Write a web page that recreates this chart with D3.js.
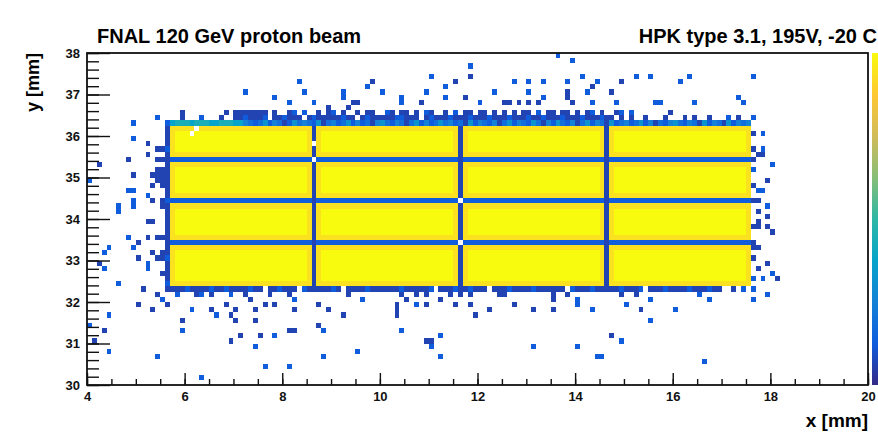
<!DOCTYPE html>
<html>
<head>
<meta charset="utf-8">
<script src="https://cdn.jsdelivr.net/npm/d3@7"></script>
<style>
  body { margin: 0; background: #fff; }
  svg { display: block; font-family: "Liberation Sans", Arial, sans-serif; }
</style>
</head>
<body>
<div class="chart"></div>
<script>
//** binning of the hit map (mm) */
const xRange = [4, 20];
const yRange = [30, 38];
const binX = 0.1;
const binY = 0.125;
const zMax = 16;

const xTicks = [4, 6, 8, 10, 12, 14, 16, 18, 20];
const yTicks = [30, 31, 32, 33, 34, 35, 36, 37, 38];

//** ROOT kBird palette */
const palStops = [0, 0.125, 0.25, 0.375, 0.5, 0.625, 0.75, 0.875, 1];
const palRed   = [0.2082, 0.0592, 0.0780, 0.0232, 0.1802, 0.5301, 0.8186, 0.9956, 0.9764];
const palGreen = [0.1664, 0.3599, 0.5041, 0.6419, 0.7178, 0.7492, 0.7328, 0.7862, 0.9832];
const palBlue  = [0.5293, 0.8684, 0.8385, 0.7914, 0.6425, 0.4662, 0.3499, 0.1968, 0.0539];

//** sensor: 4x4 pads, gaps between them */
const sensorX = [5.7, 17.6];
const sensorY = [32.375, 36.25];
const gapX = [8.65, 11.65, 14.65];
const gapY = [33.44, 34.44, 35.44];
const padCount = 16;
const nearGapCount = 15;
const sensorEdgeCount = 15;
const gapXCount = 1;
const gapYCount = 2;

// rows of hits along the sensor border, one digit per 0.1 mm bin
const topEdgeRow = { y: 36.31, x0: 5.7, counts:
  "677767776677766" + "4323524312" + "5343251342" + "3524231453" + "2431352423" + "5342315243" +
  "2413524325" + "3142532413" + "5243152342" + "3524132453" + "2431524315" + "2434" };
const aboveRow1 = { y: 36.44, x0: 5.0, counts:
  "0000200001" + "0002000100" + "1121112011" + "2111012111" + "1121101211" + "1112211101" +
  "2111211121" + "1121112111" + "2112111211" + "1211121101" + "0100100010" + "0010100100" + "02010020" };
const aboveRow2 = { y: 36.56, x0: 6.8, counts:
  "1010110010" + "1001201001" + "0120100101" + "1002101101" + "0210010201" + "1011010101" +
  "0110201101" + "1010120100" + "12" };
const belowRow = { y: 32.31, x0: 5.6, counts:
  "1111211112" + "1121111211" + "0112111021" + "1111210111" + "1211111121" + "1111201112" +
  "1121110111" + "2111121111" + "1102111211" + "1112111201" + "1121111211" + "12110010201" };
// columns left of the sensor, one digit per 0.125 mm bin from the bottom
const leftCol1 = { x: 5.65, y0: 32.375, counts: "21111211111111112111111111211112" };
const leftCol2 = { x: 5.55, y0: 32.375, counts: "00100110010000011001111010100000" };

// scattered hits [x, y, count]
const strayHits = [
  [4.92,36.36,1],[5.43,36.48,2],[5.64,36.34,1],[5.93,36.55,1],[6.34,36.46,2],
  [7.24,37.06,2],[7.14,36.58,1],[7.40,36.58,1],[7.50,36.55,1],[7.69,36.58,1],[7.83,36.99,2],
  [8.34,37.25,2],[8.43,37.06,2],[8.12,36.75,2],[8.43,36.58,2],[8.63,36.75,2],[8.71,36.51,1],
  [8.98,36.65,1],[9.23,37.06,2],[9.23,36.94,2],[9.35,36.63,1],[9.49,36.77,1],[9.59,36.87,1],
  [9.74,37.18,2],[9.84,37.25,1],[10.05,37.06,2],[10.41,36.99,2],[10.45,36.82,2],[10.82,36.87,1],
  [10.93,37.06,2],[11.05,37.47,2],[11.34,37.13,2],[11.34,36.99,2],
  [13.63,37.88,2],[13.94,37.76,2],[11.85,37.66,2],[11.85,37.42,1],[11.54,37.25,1],[11.70,36.99,1],
  [11.34,36.89,2],[12.73,37.37,2],[13.04,37.25,2],[13.32,37.25,2],[13.84,37.37,2],[14.14,37.47,2],
  [14.43,37.37,2],[14.94,37.25,1],[15.23,37.47,2],[15.52,37.47,2],[16.15,37.37,2],[16.32,37.47,2],
  [17.63,37.47,2],[12.36,37.08,2],[13.04,37.06,2],[13.39,36.99,2],[13.22,36.82,1],[13.08,36.75,1],
  [13.84,37.06,1],[13.80,36.94,1],[14.25,37.06,2],[14.35,37.18,1],[14.74,37.06,1],[15.60,36.87,2],
  [15.74,36.75,2],[16.44,36.75,2],[17.34,36.99,2],[17.44,36.87,2],[12.03,36.75,2],[12.52,36.87,1],
  [12.67,36.75,1],[12.87,36.75,1],[13.90,36.75,1],[14.35,36.75,2],[14.82,36.75,2],[15.13,36.58,2],
  [15.95,36.58,1],
  [4.94,35.94,2],[5.24,35.76,1],[5.43,35.66,1],[5.24,35.57,1],[5.43,35.46,1],[4.83,35.42,1],
  [4.23,35.36,1],[4.06,34.96,2],[5.45,35.15,1],[5.45,35.05,1],[5.35,35.05,1],[5.45,34.90,1],
  [5.35,34.85,1],[4.94,35.06,1],[4.85,34.66,2],[4.95,34.66,2],[4.94,34.46,2],[4.94,34.26,2],
  [4.64,34.26,2],[4.64,34.14,2],[5.26,34.54,2],[5.33,34.46,1],[5.26,33.98,1],[5.33,33.98,1],
  [5.43,33.57,1],[5.24,33.57,1],[4.83,33.57,2],[5.05,33.45,1],[4.44,33.35,2],[4.94,33.25,2],
  [5.05,33.09,1],[5.39,33.17,1],[5.45,33.09,1],[4.33,33.16,2],[4.23,32.93,1],[4.33,32.75,2],
  [5.24,32.93,2],[5.24,32.77,2],[4.64,32.45,2],[5.15,32.33,1],[4.94,36.35,2],
  [17.11,36.48,2],[17.62,36.48,1],[17.62,36.07,1],[17.82,36.07,2],[17.62,35.74,1],[17.82,35.74,2],
  [17.72,35.58,1],[17.82,35.58,1],[17.62,35.44,1],[18.03,35.26,2],[17.62,35.16,2],[17.93,34.96,1],
  [17.62,34.82,1],[17.66,34.76,1],[17.79,34.66,2],[17.82,34.70,2],[17.62,34.42,1],[17.72,34.42,1],
  [17.93,34.35,2],[17.72,34.14,1],[17.93,34.06,1],[17.72,33.96,1],[17.62,33.86,1],[17.79,33.78,1],
  [17.93,33.86,1],[18.03,33.66,1],[17.62,33.45,1],[17.66,33.33,1],[17.79,33.33,1],[17.62,33.00,1],
  [17.72,32.87,1],[17.72,32.75,1],[17.93,32.96,1],[18.03,32.67,2],[18.13,32.55,1],[17.82,32.55,2],
  [17.62,32.55,2],[17.62,32.25,2],[17.41,32.25,1],[17.93,32.17,2],
  [5.43,32.14,1],[5.53,32.05,2],[5.80,32.14,2],[6.21,32.14,1],[6.32,32.14,2],[6.55,32.14,1],
  [6.93,32.14,2],[7.20,32.14,1],[7.31,32.05,1],[7.72,32.14,1],[8.13,32.14,1],[8.26,32.05,2],
  [9.35,32.14,1],[9.63,32.05,2],[10.41,32.14,1],[10.52,32.05,1],[10.79,32.14,1],[10.93,32.14,1],
  [5.02,31.94,1],[5.33,31.84,1],[5.60,31.94,1],[6.52,31.84,1],[6.83,31.94,1],[7.03,31.84,1],
  [7.44,31.84,1],[7.63,31.94,1],[7.83,31.94,1],[8.24,31.84,1],[8.74,31.94,1],[8.94,31.84,1],
  [10.35,31.94,1],[10.72,31.94,2],[10.93,31.94,1],[6.13,31.75,2],[4.44,31.65,2],[6.62,31.65,2],
  [6.92,31.65,1],[9.22,31.65,1],[10.35,31.75,1],[10.35,31.65,1],[5.94,31.53,1],[7.03,31.53,1],
  [7.44,31.53,1],[4.04,31.45,2],[8.74,31.45,1],[8.13,31.37,1],[4.35,31.25,1],[5.94,31.25,2],
  [8.23,31.25,1],[8.83,31.25,2],[10.43,31.25,2],[7.14,31.16,1],[7.55,31.16,1],[7.83,31.16,2],
  [4.13,31.05,1],[6.93,31.05,1],[10.93,31.05,1],[11.02,31.00,1],[7.44,30.97,2],[4.44,30.85,2],
  [9.55,30.75,2],[5.43,30.65,2],[8.83,30.65,2],[7.63,30.45,2],[8.13,30.45,2],[6.34,30.23,2],
  [11.23,32.06,1],[11.44,32.15,1],[11.61,32.15,1],[11.83,32.15,1],[12.40,32.15,1],[12.53,32.15,1],
  [13.54,32.15,1],[13.54,32.06,1],[13.83,32.15,1],[14.03,32.06,2],[14.03,31.94,2],[14.96,32.15,1],
  [15.23,32.15,1],[15.52,32.06,2],[16.53,32.15,2],[16.73,32.06,2],[17.62,32.06,2],[17.93,32.15,2],
  [11.52,31.94,1],[11.83,31.94,1],[12.73,31.94,1],[15.04,31.94,2],[13.54,31.86,1],[16.03,31.86,2],
  [12.24,31.75,1],[13.13,31.75,1],[14.33,31.75,2],[15.35,31.75,1],[11.94,31.65,1],[15.52,31.53,2],
  [11.23,31.16,2],[14.73,31.16,1],[14.94,31.05,2],[11.06,30.96,2],[13.13,30.96,2],[14.03,30.96,2],
  [14.55,30.73,2],[11.23,30.65,2],[14.43,30.65,2],[16.63,30.55,2]
];

// bins without hits inside the sensor
const emptyBins = [[8.65,35.44],[8.65,35.85],[11.65,34.44],[11.65,33.44],[6.15,36.05],[6.25,36.15]];

//** svg */
var svg = d3.select(".chart")
            .append("svg")
            .attr("width", 878)
            .attr("height", 432);

svg.append("rect").attr("width", 878).attr("height", 432).attr("fill", "#fff");

const plot = { left: 87, right: 868, top: 53, bottom: 385 };
const x = d3.scaleLinear().domain(xRange).range([plot.left, plot.right]);
const y = d3.scaleLinear().domain(yRange).range([plot.bottom, plot.top]);

const palColors = palStops.map((s, k) => d3.rgb(palRed[k] * 255, palGreen[k] * 255, palBlue[k] * 255));
const color = d3.scaleLinear()
  .domain(palStops.map(s => s * zMax))
  .range(palColors)
  .interpolate(d3.interpolateRgb)
  .clamp(true);

//** fill the bins */
const nx = Math.round((xRange[1] - xRange[0]) / binX);
const ny = Math.round((yRange[1] - yRange[0]) / binY);
const colOf = v => Math.floor((v - xRange[0]) / binX + 1e-9);
const rowOf = v => Math.floor((v - yRange[0]) / binY + 1e-9);
const key = (i, j) => i + "," + j;
const counts = new Map();

const gapCols = gapX.map(colOf);
const gapRows = gapY.map(rowOf);
const firstCol = colOf(sensorX[0]), lastCol = colOf(sensorX[1]) - 1;
const firstRow = rowOf(sensorY[0]), lastRow = rowOf(sensorY[1]) - 1;

for (let i = firstCol; i <= lastCol; i++) {
  for (let j = firstRow; j <= lastRow; j++) {
    let n = padCount;
    if (gapCols.includes(i)) n = gapXCount;
    else if (gapRows.includes(j)) n = gapYCount;
    else if (gapCols.some(g => Math.abs(g - i) === 1) || gapRows.some(g => Math.abs(g - j) === 1)) n = nearGapCount;
    else if (i === firstCol || i === lastCol || j === firstRow || j === lastRow) n = sensorEdgeCount;
    counts.set(key(i, j), n);
  }
}

[topEdgeRow, aboveRow1, aboveRow2, belowRow].forEach(row => {
  const i0 = colOf(row.x0), j = rowOf(row.y);
  row.counts.split("").forEach((c, k) => {
    const n = +c;
    if (n > 0) counts.set(key(i0 + k, j), Math.max(n, counts.get(key(i0 + k, j)) || 0));
  });
});

[leftCol1, leftCol2].forEach(col => {
  const i = colOf(col.x), j0 = rowOf(col.y0);
  col.counts.split("").forEach((c, k) => {
    const n = +c;
    if (n > 0) counts.set(key(i, j0 + k), Math.max(n, counts.get(key(i, j0 + k)) || 0));
  });
});

strayHits.forEach(([hx, hy, n]) => {
  const k = key(colOf(hx), rowOf(hy));
  counts.set(k, Math.max(n, counts.get(k) || 0));
});

emptyBins.forEach(([ex, ey]) => counts.delete(key(colOf(ex), rowOf(ey))));

const cells = [];
counts.forEach((n, k) => {
  const [i, j] = k.split(",").map(Number);
  if (n > 0 && i >= 0 && i < nx && j >= 0 && j < ny) cells.push({ i, j, n });
});

svg.append("g")
  .attr("shape-rendering", "crispEdges")
  .selectAll("rect")
  .data(cells)
  .join("rect")
  .attr("x", d => x(xRange[0] + d.i * binX))
  .attr("y", d => y(yRange[0] + (d.j + 1) * binY))
  .attr("width", d => x(xRange[0] + (d.i + 1) * binX) - x(xRange[0] + d.i * binX))
  .attr("height", d => y(yRange[0] + d.j * binY) - y(yRange[0] + (d.j + 1) * binY))
  .attr("fill", d => color(d.n));

//** palette bar */
const grad = svg.append("defs").append("linearGradient")
  .attr("id", "pal").attr("x1", 0).attr("x2", 0).attr("y1", 1).attr("y2", 0);
grad.selectAll("stop").data(palStops).join("stop")
  .attr("offset", d => d)
  .attr("stop-color", (d, k) => palColors[k]);
svg.append("rect")
  .attr("x", 872).attr("y", y(yRange[1]))
  .attr("width", 20).attr("height", y(yRange[0]) - y(yRange[1]))
  .attr("fill", "url(#pal)");

//** axes */
const xMinor = d3.range(xRange[0], xRange[1] + 0.001, 0.5);
const yMinor = d3.range(yRange[0], yRange[1] + 0.001, 0.2);

svg.append("g").attr("transform", `translate(0,${plot.bottom})`)
  .call(d3.axisBottom(x).tickValues(xMinor).tickSize(-6).tickFormat(""));
svg.append("g").attr("class", "xaxis").attr("transform", `translate(0,${plot.bottom})`)
  .call(d3.axisBottom(x).tickValues(xTicks).tickSize(-12).tickPadding(7).tickFormat(d3.format("d")));
svg.append("g").attr("transform", `translate(${plot.left},0)`)
  .call(d3.axisLeft(y).tickValues(yMinor).tickSize(-12).tickFormat(""));
svg.append("g").attr("class", "yaxis").attr("transform", `translate(${plot.left},0)`)
  .call(d3.axisLeft(y).tickValues(yTicks).tickSize(-23).tickPadding(7).tickFormat(d3.format("d")));

svg.selectAll(".domain").remove();
svg.selectAll(".tick line").attr("stroke", "#111").attr("stroke-width", 1.4);
svg.selectAll(".tick text")
  .attr("fill", "#111")
  .style("font-size", "13px")
  .style("font-weight", "bold")
  .style("font-family", "'Liberation Sans', Arial, sans-serif");

svg.append("rect")
  .attr("x", plot.left).attr("y", plot.top)
  .attr("width", plot.right - plot.left).attr("height", plot.bottom - plot.top)
  .attr("fill", "none").attr("stroke", "#111").attr("stroke-width", 1.8);

//** titles */
svg.append("text")
  .attr("x", 97).attr("y", 43)
  .style("font-size", "20px").style("font-weight", "bold")
  .text("FNAL 120 GeV proton beam");
svg.append("text")
  .attr("x", 877).attr("y", 43).attr("text-anchor", "end")
  .style("font-size", "20px").style("font-weight", "bold")
  .text("HPK type 3.1, 195V, -20 C");
svg.append("text")
  .attr("x", plot.right).attr("y", 427).attr("text-anchor", "end")
  .style("font-size", "19px").style("font-weight", "bold")
  .text("x [mm]");
svg.append("text")
  .attr("transform", `translate(39,${plot.top}) rotate(-90)`).attr("text-anchor", "end")
  .style("font-size", "18px").style("font-weight", "bold")
  .text("y [mm]");
</script>
</body>
</html>
